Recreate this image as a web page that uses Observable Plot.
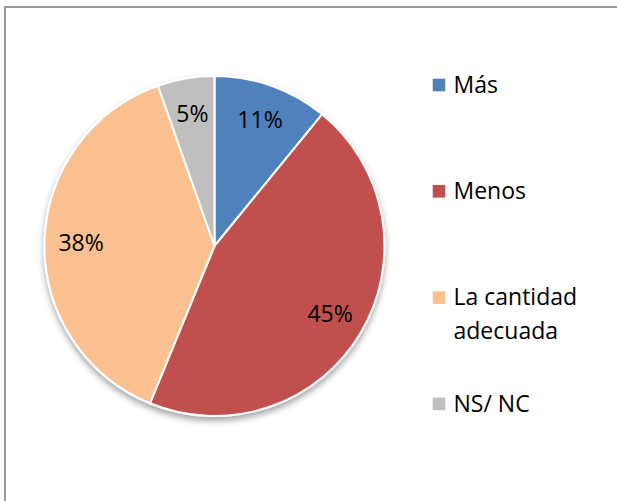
<!DOCTYPE html>
<html><head><meta charset="utf-8">
<script src="https://cdn.jsdelivr.net/npm/d3@7"></script>
<script src="https://cdn.jsdelivr.net/npm/@observablehq/plot@0.6"></script>
<style>
body{margin:0;background:#fff;}
#wrap{position:relative;width:617px;height:501px;overflow:hidden;background:#fff;}
#frame{position:absolute;left:4px;top:6px;width:800px;height:800px;border-top:2px solid #9a9a9a;border-left:2px solid #9a9a9a;}
#chart{position:absolute;left:0;top:0;}
</style></head><body>
<div id="wrap"><div id="frame"></div><div id="chart"></div></div>
<script>
// Data
const categories = ["Más", "Menos", "La cantidad adecuada", "NS/ NC"];
const legendLabels = ["Más", "Menos", "La cantidad\nadecuada", "NS/ NC"];
const values = [10.9, 45.3, 38.4, 5.4];
const colors = ["#4F81BD", "#C0504D", "#FAC090", "#BFBFBF"];

// Layout
const W = 617, H = 501;
const cx = 214.5, cy = 246, R = 170, labelR = 134;
const legX = 438.5, legTextX = 453, legY0 = 84.5, legStep = 106.3;

const data = categories.map((c, i) => ({category: c, value: values[i], legend: legendLabels[i], i}));
const arcs = d3.pie().sort(null).value(d => d.value)(data);
const labels = arcs.map(a => {
  const m = (a.startAngle + a.endAngle) / 2;
  return {x: cx + labelR * Math.sin(m), y: cy - labelR * Math.cos(m), text: Math.round(a.data.value) + "%"};
});
const legend = data.map(d => ({...d, x: legX, tx: legTextX, y: legY0 + d.i * legStep}));

function pieMark(index, scales) {
  const g = d3.create("svg:g");
  const defs = g.append("defs");
  const f = defs.append("filter").attr("id", "pieShadow").attr("x", "-20%").attr("y", "-20%").attr("width", "140%").attr("height", "140%");
  f.append("feDropShadow").attr("dx", 0).attr("dy", 4).attr("stdDeviation", 3).attr("flood-color", "#000").attr("flood-opacity", 0.35);
  const arc = d3.arc().innerRadius(0).outerRadius(R);
  const color = scales.color || (c => colors[categories.indexOf(c)]);
  g.append("g")
    .attr("filter", "url(#pieShadow)")
    .attr("transform", `translate(${scales.x(cx)},${scales.y(cy)})`)
    .selectAll("path").data(arcs).join("path")
    .attr("d", arc)
    .attr("fill", d => color(d.data.category))
    .attr("stroke", "#fff")
    .attr("stroke-width", 2)
    .attr("stroke-linejoin", "round");
  return g.node();
}

const chart = Plot.plot({
  width: W, height: H,
  margin: 0,
  x: {domain: [0, W], range: [0, W], axis: null},
  y: {domain: [0, H], range: [0, H], axis: null},
  color: {domain: categories, range: colors},
  style: {fontFamily: "'Open Sans', sans-serif", color: "#000", background: "transparent", overflow: "visible"},
  marks: [
    pieMark,
    Plot.text(labels, {x: "x", y: "y", text: "text", fontSize: 23, fill: "#000"}),
    Plot.dot(legend, {x: "x", y: "y", fill: "category", symbol: "square", r: 7.1, stroke: null}),
    Plot.text(legend, {x: "tx", y: "y", text: "legend", textAnchor: "start", lineAnchor: "top", dy: -16.5, lineHeight: 1.48, fontSize: 23, fill: "#000"})
  ]
});
document.getElementById("chart").append(chart);
</script>
</body></html>
